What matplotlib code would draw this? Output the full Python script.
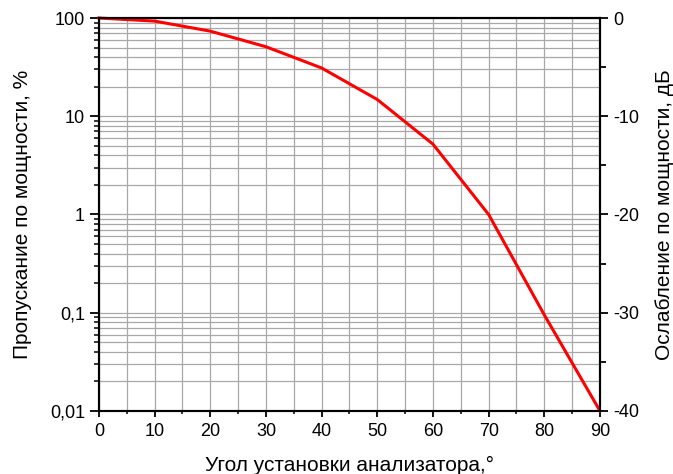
import numpy as np
import matplotlib
matplotlib.use('Agg')
import matplotlib.pyplot as plt
from matplotlib.ticker import FixedLocator, LogLocator, FuncFormatter, MultipleLocator, NullFormatter

plt.rcParams['font.family'] = ['Liberation Sans', 'DejaVu Sans']
plt.rcParams['axes.unicode_minus'] = False

# angle of analyser, degrees
angle = [0, 10, 20, 30, 40, 50, 60, 70, 80, 90]
# power transmission, %
transmission = [100, 93, 73.5, 51, 31, 14.8, 5.2, 1.0, 0.095, 0.01]

y_ticks = [0.01, 0.1, 1, 10, 100]
y_labels = ['0,01', '0,1', '1', '10', '100']
db_ticks = [-40, -30, -20, -10, 0]

fig = plt.figure(figsize=(6.73, 4.74), dpi=100)
ax = fig.add_axes([0.147, 0.133, 0.7445, 0.829])

ax.plot(angle, transmission, color='#ff0000', lw=2.2, zorder=5, clip_on=False)

ax.set_yscale('log')
ax.set_ylim(0.01, 100)
ax.set_xlim(0, 90)

ax.xaxis.set_major_locator(MultipleLocator(10))
ax.xaxis.set_minor_locator(MultipleLocator(5))
ax.yaxis.set_major_locator(FixedLocator(y_ticks))
ax.yaxis.set_major_formatter(FuncFormatter(lambda v, p: y_labels[y_ticks.index(v)] if v in y_ticks else ''))
ax.yaxis.set_minor_locator(LogLocator(base=10, subs=np.arange(2, 10), numticks=20))
ax.yaxis.set_minor_formatter(NullFormatter())

ax.grid(True, which='both', color='#a8a8a8', lw=0.9)
ax.set_axisbelow(True)

ax.tick_params(axis='both', which='major', direction='out', length=6.5, width=1.3, labelsize=13, top=False, right=False)
ax.tick_params(axis='both', which='minor', direction='out', length=3.5, width=1.1, top=False, right=False)
ax.tick_params(axis='x', which='major', length=4.5, pad=4)
ax.tick_params(axis='x', which='minor', length=2.5)
for s in ax.spines.values():
    s.set_linewidth(1.5)

ax.set_xlabel('Угол установки анализатора,°', fontsize=15, labelpad=12)
ax.set_ylabel('Пропускание по мощности, %', fontsize=15, labelpad=13)

ax2 = ax.twinx()
ax2.set_ylim(-40, 0)
ax2.yaxis.set_major_locator(FixedLocator(db_ticks))
ax2.yaxis.set_minor_locator(MultipleLocator(5))
ax2.tick_params(axis='y', which='major', direction='out', length=6, width=1.3, labelsize=13)
ax2.tick_params(axis='y', which='minor', direction='out', length=4.5, width=1.3)
ax2.set_ylabel('Ослабление по мощности, дБ', fontsize=15, labelpad=11.5)
for s in ax2.spines.values():
    s.set_linewidth(1.5)

plt.savefig('out.png', dpi=100)
